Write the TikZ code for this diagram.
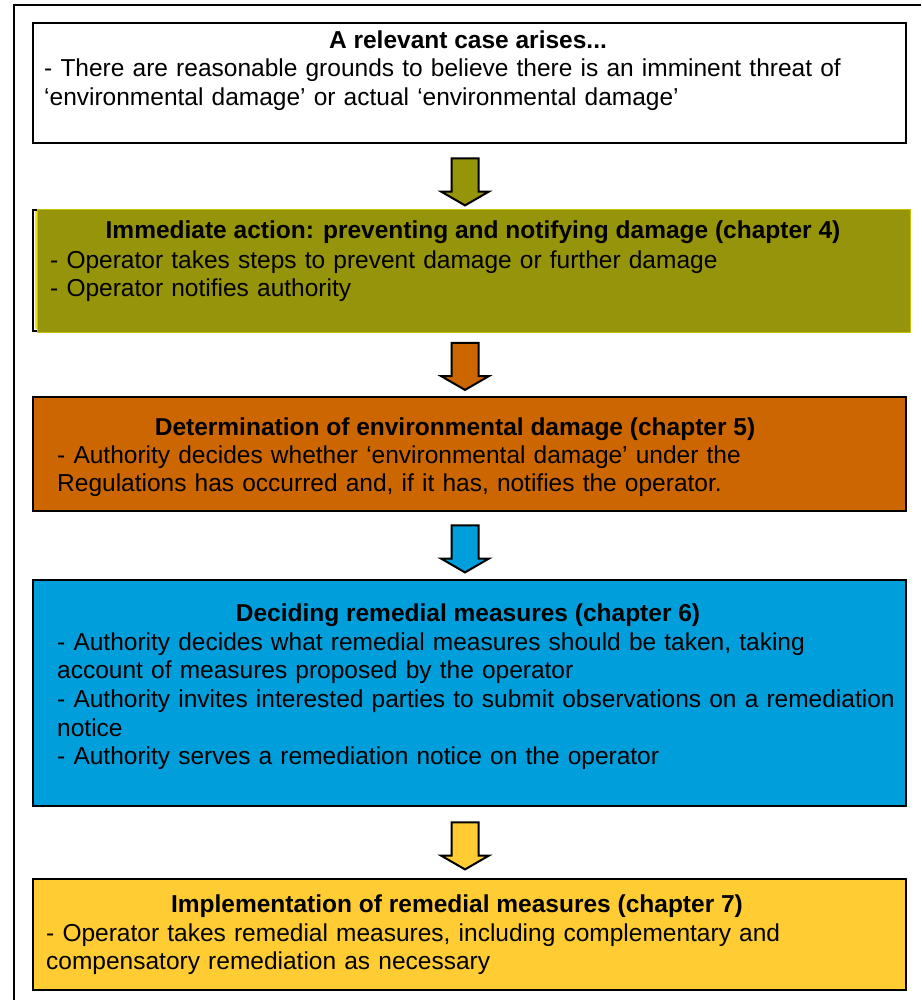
\documentclass[tikz,border=0pt]{standalone}
\usepackage{fontspec}
\setmainfont{Liberation Sans}
\usetikzlibrary{shapes.arrows}
\definecolor{olivefill}{RGB}{150,148,10}
\definecolor{rustfill}{RGB}{204,102,0}
\definecolor{skyfill}{RGB}{0,158,219}
\definecolor{goldfill}{RGB}{255,204,51}

\begin{document}
\begin{tikzpicture}[x=1pt, y=-1pt]
\tikzstyle{every node}=[inner sep=0pt, font=\fontsize{24.5}{28.7}\selectfont]
\tikzstyle{stage}=[rectangle, draw=black, line width=2.3pt, anchor=north west,
                   minimum width=873pt]
\tikzstyle{heading}=[anchor=base, font=\fontsize{24.5}{28.7}\selectfont\bfseries]
\tikzstyle{body}=[anchor=base west, text width=860pt, align=left]
\tikzstyle{flow}=[single arrow, draw=black, line width=2pt, shape border rotate=270,
                  inner sep=12.5pt, minimum height=47pt, minimum width=46pt,
                  single arrow head extend=10.5pt, single arrow tip angle=120]
\useasboundingbox (0,0) rectangle (921,1000);
\draw[line width=2pt] (14,1000) -- (14,5) -- (921,5);
% the five stages
\node[stage, minimum height=120pt] (case) at (32,22) {};
\node[anchor=north west, fill=olivefill, draw=olivefill!55!yellow, line width=0.8pt,
      minimum width=873pt, minimum height=123pt] (act) at (37,209) {};
\draw[line width=2pt] (37,210) -- (33.3,210) -- (33.3,330.5) -- (37,330.5);
\draw[yellow!85!olivefill, line width=2pt] (35.5,211.5) -- (35.5,329);
\node[stage, fill=rustfill, minimum height=114pt] (damage) at (32,396) {};
\node[stage, fill=skyfill, minimum height=226pt] (remedy) at (32,579) {};
\node[stage, fill=goldfill, minimum height=111pt] (works) at (32,878) {};
% texts
\node[heading] (case-t) at (468,49) {A relevant case arises...};
\node[body] (case-b) at (44,77) {- There are reasonable grounds to believe there is an imminent threat of\\
  ‘environmental damage’ or actual ‘environmental damage’};
\node[heading] (act-t) at (473,239) {Immediate action: preventing and notifying damage (chapter 4)};
\node[body] (act-b) at (50,268) {- Operator takes steps to prevent damage or further damage\\
  - Operator notifies authority};
\node[heading] (damage-t) at (455,435) {Determination of environmental damage (chapter 5)};
\node[body] (damage-b) at (57,463) {- Authority decides whether ‘environmental damage’ under the\\
  Regulations has occurred and, if it has, notifies the operator.};
\node[heading] (remedy-t) at (468,621) {Deciding remedial measures (chapter 6)};
\node[body] (remedy-b) at (57,650) {- Authority decides what remedial measures should be taken, taking\\
  account of measures proposed by the operator\\
  - Authority invites interested parties to submit observations on a remediation\\
  notice\\
  - Authority serves a remediation notice on the operator};
\node[heading] (works-t) at (457,912) {Implementation of remedial measures (chapter 7)};
\node[body] (works-b) at (46,941) {- Operator takes remedial measures, including complementary and\\
  compensatory remediation as necessary};
% arrows between the stages
\node[flow, fill=olivefill] (a1) at (465,178) {};
\node[flow, fill=rustfill] (a2) at (465,362.5) {};
\node[flow, fill=skyfill] (a3) at (465,545) {};
\node[flow, fill=goldfill] (a4) at (465,842) {};
\end{tikzpicture}
\end{document}
